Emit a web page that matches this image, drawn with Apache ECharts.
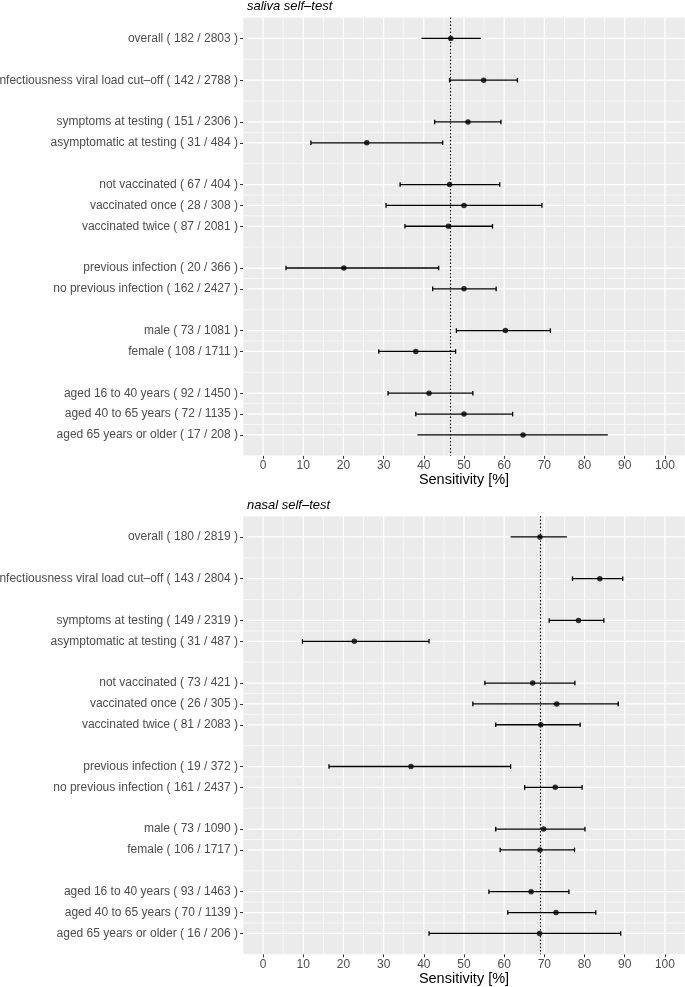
<!DOCTYPE html>
<html><head><meta charset="utf-8">
<script src="https://cdn.jsdelivr.net/npm/echarts@6/dist/echarts.min.js"></script>
<style>html,body{margin:0;padding:0;background:#fff}#c{width:685px;height:987px}</style>
</head><body><div id="c"></div>
<script>
// ---- data ----
const groups = ['overall', 'infectiousness viral load cut–off', 'symptoms at testing', 'asymptomatic at testing',
  'not vaccinated', 'vaccinated once', 'vaccinated twice', 'previous infection', 'no previous infection',
  'male', 'female', 'aged 16 to 40 years', 'aged 40 to 65 years', 'aged 65 years or older'];
const rowPositions = [1, 3, 5, 6, 8, 9, 10, 12, 13, 15, 16, 18, 19, 20];
const panelTitles = ['saliva self–test', 'nasal self–test'];
const xTicks = [0, 10, 20, 30, 40, 50, 60, 70, 80, 90, 100];
const xMinor = [-5, 5, 15, 25, 35, 45, 55, 65, 75, 85, 95, 105];

const salivaPos = [182, 142, 151, 31, 67, 28, 87, 20, 162, 73, 108, 92, 72, 17];
const salivaTot = [2803, 2788, 2306, 484, 404, 308, 2081, 366, 2427, 1081, 1711, 1450, 1135, 208];
const salivaEst = [46.7, 54.9, 51.0, 25.8, 46.4, 50.0, 46.1, 20.1, 50.0, 60.3, 38.0, 41.3, 50.0, 64.7];
const salivaLow = [39.4, 46.4, 42.7, 11.9, 34.1, 30.6, 35.3, 5.7, 42.2, 48.1, 28.8, 31.1, 38.0, 38.4];
const salivaHigh = [54.2, 63.3, 59.2, 44.7, 58.9, 69.4, 57.1, 43.7, 58.0, 71.5, 47.9, 52.2, 62.1, 85.8];
const salivaCaps = [0, 1, 1, 1, 1, 1, 1, 1, 1, 1, 1, 1, 1, 0];

const nasalPos = [180, 143, 149, 31, 73, 26, 81, 19, 161, 73, 106, 93, 70, 16];
const nasalTot = [2819, 2804, 2319, 487, 421, 305, 2083, 372, 2437, 1090, 1717, 1463, 1139, 206];
const nasalEst = [68.9, 83.8, 78.5, 22.7, 67.1, 73.1, 69.1, 36.8, 72.7, 69.8, 68.9, 66.7, 72.9, 68.8];
const nasalLow = [61.6, 77.0, 71.2, 9.8, 55.2, 52.2, 57.9, 16.4, 65.1, 57.9, 59.0, 56.2, 60.9, 41.3];
const nasalHigh = [75.6, 89.5, 84.8, 41.3, 77.6, 88.4, 78.9, 61.6, 79.4, 80.1, 77.5, 76.1, 82.8, 89.0];
const nasalCaps = [0, 1, 1, 1, 1, 1, 1, 1, 1, 1, 1, 1, 1, 1];

// ---- build ----
const FONT = 'Liberation Sans, Arial, Helvetica, sans-serif';
const panels = [
  {pos: salivaPos, tot: salivaTot, est: salivaEst, lo: salivaLow, hi: salivaHigh, caps: salivaCaps},
  {pos: nasalPos, tot: nasalTot, est: nasalEst, lo: nasalLow, hi: nasalHigh, caps: nasalCaps}
];
const gridTops = [17.6, 516.1];
const gridH = 438.2;

const yMinor = [0];
for (let i = 0; i < rowPositions.length - 1; i++) yMinor.push((rowPositions[i] + rowPositions[i + 1]) / 2);
yMinor.push(21);

function gridRender(params, api) {
  const cs = params.coordSys;
  const v = api.value(0), vert = api.value(1), major = api.value(2);
  let shape;
  if (vert) { const p = api.coord([v, 1]); shape = {x1: p[0], y1: cs.y, x2: p[0], y2: cs.y + cs.height}; }
  else { const p = api.coord([0, v]); shape = {x1: cs.x, y1: p[1], x2: cs.x + cs.width, y2: p[1]}; }
  return {type: 'line', shape: shape, silent: true, style: {stroke: '#ffffff', lineWidth: major ? 1.25 : 0.6}};
}
function errRender(params, api) {
  const y = api.value(2);
  const a = api.coord([api.value(0), y]);
  const b = api.coord([api.value(1), y]);
  const st = {stroke: '#000', lineWidth: 1.3};
  const ch = [{type: 'line', shape: {x1: a[0], y1: a[1], x2: b[0], y2: b[1]}, style: st}];
  if (api.value(3)) {
    const h = 2.3;
    ch.push({type: 'line', shape: {x1: a[0], y1: a[1] - h, x2: a[0], y2: a[1] + h}, style: st});
    ch.push({type: 'line', shape: {x1: b[0], y1: b[1] - h, x2: b[0], y2: b[1] + h}, style: st});
  }
  return {type: 'group', children: ch};
}

const grid = [], xAxis = [], yAxis = [], series = [], title = [];
panels.forEach((p, k) => {
  const labelMap = {};
  rowPositions.forEach((r, i) => { labelMap[r] = groups[i] + ' ( ' + p.pos[i] + ' / ' + p.tot[i] + ' )'; });
  grid.push({left: 243, right: 0, top: gridTops[k], height: gridH, show: true, backgroundColor: '#EBEBEB', borderWidth: 0,
    containLabel: false, outerBoundsMode: 'none'});
  title.push({text: panelTitles[k], left: 247, top: k === 0 ? 0 : 498.5, padding: 0,
    textStyle: {fontStyle: 'italic', fontWeight: 'normal', fontSize: 13, color: '#000', fontFamily: FONT}});
  xAxis.push({type: 'value', gridIndex: k, min: -5, max: 105, position: 'bottom',
    axisLine: {show: false, onZero: false},
    axisTick: {show: true, customValues: xTicks, length: 3, lineStyle: {color: '#333', width: 1}},
    axisLabel: {customValues: xTicks, color: '#4D4D4D', fontSize: 12, margin: 4, fontFamily: FONT},
    splitLine: {show: false},
    name: 'Sensitivity [%]', nameLocation: 'middle', nameGap: 17,
    nameTextStyle: {color: '#000', fontSize: 14.5, fontFamily: FONT}});
  yAxis.push({type: 'value', gridIndex: k, min: 0, max: 21, inverse: true, position: 'left',
    axisLine: {show: false, onZero: false},
    axisTick: {show: true, customValues: rowPositions, length: 3, lineStyle: {color: '#333', width: 1}},
    axisLabel: {customValues: rowPositions, color: '#4D4D4D', fontSize: 12, margin: 5, fontFamily: FONT,
      formatter: v => labelMap[v] || ''},
    splitLine: {show: false}});
  const gdata = [];
  xMinor.forEach(v => gdata.push([v, 1, 0]));
  yMinor.forEach(v => gdata.push([v, 0, 0]));
  xTicks.forEach(v => gdata.push([v, 1, 1]));
  rowPositions.forEach(v => gdata.push([v, 0, 1]));
  series.push({type: 'custom', xAxisIndex: k, yAxisIndex: k, renderItem: gridRender, data: gdata, z: 1, silent: true, clip: true,
    encode: {x: 0, y: 1}});
  series.push({type: 'custom', xAxisIndex: k, yAxisIndex: k, renderItem: errRender, z: 3, silent: true,
    data: rowPositions.map((r, i) => [p.lo[i], p.hi[i], r, p.caps[i]]), encode: {x: [0, 1], y: 2}});
  series.push({type: 'scatter', xAxisIndex: k, yAxisIndex: k, symbol: 'circle', symbolSize: 5.5, z: 4,
    itemStyle: {color: '#000'}, silent: true,
    data: rowPositions.map((r, i) => [p.est[i], r]),
    markLine: {silent: true, symbol: ['none', 'none'], label: {show: false},
      lineStyle: {type: [1.3, 2.2], color: '#000', width: 1.1},
      data: [{xAxis: p.est[0]}]}});
});

const chart = echarts.init(document.getElementById('c'), null, {renderer: 'canvas'});
chart.setOption({animation: false, backgroundColor: '#fff', title, grid, xAxis, yAxis, series});
</script></body></html>
